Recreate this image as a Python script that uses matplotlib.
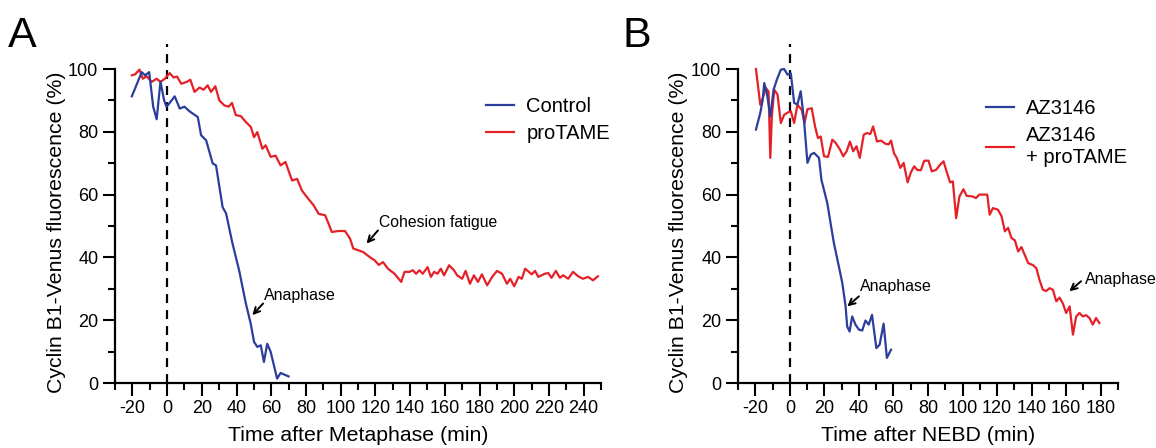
import matplotlib
matplotlib.use("Agg")
import matplotlib.pyplot as plt

plt.rcParams['font.family'] = ['Liberation Sans', 'DejaVu Sans']
plt.rcParams['axes.unicode_minus'] = False

# ---------------- Panel A data ----------------
ctrl_t = [-20.3, -14.6, -12.7, -10.3, -8, -6, -3.8, -1.7, -0.3, 1.2, 4.4, 7.3, 10, 13, 17.7,
          19.6, 22.5, 26.3, 28.2, 32, 34, 37.7, 41.5, 45.4, 48.2, 50.1, 52, 54, 55.8, 57.7,
          59.7, 63.4, 65.4, 70]
ctrl_v = [91.3, 99, 98, 99, 88, 84, 96, 90, 88, 89, 91.3, 87.4, 88, 86.5, 84.7,
          78.9, 77.3, 69.9, 69.3, 56, 54, 44.4, 35.9, 25.3, 18.9, 13.1, 11.5, 12, 6.7, 12.5,
          9.9, 1.4, 3.2, 2.1]

tame_t = [-20.3, -18.4, -15.9, -14, -11.8, -8.9, -6, -3.8, -1.3, 1.5, 3.8, 5.7, 8.2, 11.4,
          13.4, 15.8, 18.7, 21, 23.4, 25.3, 27.8, 30.1, 33, 35.5, 37.4, 39.6, 42.5, 45.4,
          48.2, 50.1, 52, 54.9, 56.8, 59.7, 62.5, 65.4, 68.2, 72, 74.9, 77.7, 80.6, 84.4,
          87.3, 91.1, 93, 94.9, 98.7, 102.5, 105.4, 107.3, 110, 113, 117, 119.7, 122, 124.4,
          127.3, 131, 134.9, 136.8, 139.7, 141.6, 143.5, 145.4, 147.3, 150.1, 152, 153.9,
          155.8, 157.7, 159.6, 162.5, 165.3, 167.1, 170, 172, 174.5, 176.8, 179.1, 181.4,
          184.4, 187.3, 190.1, 193, 195.8, 197.7, 200, 202.5, 204.4, 206.3, 210.1, 212,
          213.9, 217.7, 219.6, 221.5, 224, 226.3, 228.2, 231.1, 233.9, 236.8, 239.6, 242.5,
          245.4, 248.2]
tame_v = [98, 98.3, 99.8, 96.9, 97.7, 95.9, 96.9, 95.9, 96.9, 98.7, 97.3, 97.6, 95.3, 95.9,
          96.6, 92.7, 94.1, 93.4, 94.8, 92.7, 94.5, 90, 88.4, 88, 89.2, 85.3, 85, 83.1,
          81.6, 78.3, 79.9, 74.6, 75.7, 72, 72.4, 69.3, 70.4, 64.5, 65, 61.3, 59.2, 56.6,
          53.9, 53.4, 50.8, 48.1, 48.4, 48.4, 46, 42.8, 42.3, 41.7, 40, 39, 37.6, 38.5,
          36.4, 34.8, 32.2, 35.4, 35.4, 35.9, 34.8, 35.9, 34.8, 36.9, 33.8, 35.4,
          34.8, 36.4, 34.3, 37.5, 35.9, 34.3, 33.2, 35.7, 31.6, 34.3, 32.2, 34.6,
          31.1, 33.8, 35.7, 34.8, 31.6, 33.2, 30.8, 33.8, 33.2, 36.4, 34.6, 35.7,
          33.8, 34.8, 35, 33.5, 35.7, 33.5, 34.3, 33.2, 35.4, 34, 33.2, 33.8,
          32.7, 34]

# ---------------- Panel B data ----------------
az_t = [-19.6, -17.1, -15.7, -14.8, -13.3, -11.3, -9.4, -7.5, -5.2, -3.3, -1.3, 0.6, 2.5, 4.4,
        6.3, 8.2, 10.2, 12.1, 14, 16.9, 18.3, 21.7, 23.6, 25.5, 28.4, 30.4, 32.3, 33.2, 34.6,
        36.1, 38, 40, 41.9, 43.8, 45.7, 47.6, 50.1, 52, 54.3, 56.2, 58.6]
az_v = [80.7, 86, 90.2, 95.5, 92.4, 84.9, 93.4, 96.6, 99.8, 100, 98.2, 98.6, 89.2, 88.7,
        92.9, 83.8, 70.1, 72.7, 73.3, 71.7, 64.7, 57.3, 50.9, 44.6, 37.1, 31.8, 24.4, 18, 16.4,
        21.2, 18.6, 17, 16.7, 19.9, 18.6, 21.7, 11.1, 12.2, 18.9, 8, 10.6]

azt_t = [-19.6, -17.1, -15.7, -13.8, -12.3, -11.3, -10.4, -9, -7.1, -5.2, -3.3, -1, 0.6, 2.5,
         4.4, 6.9, 8.5, 10.2, 12.7, 14.6, 16.3, 17.9, 19.8, 22.1, 24.6, 26.5, 29, 30.9, 32.9,
         34.8, 36.7, 38.6, 40.5, 42.8, 44.7, 46.6, 48.2, 50.5, 52.8, 55.3, 57.2, 58.6, 60.3,
         61.9, 64, 65.9, 68.2, 70.1, 72, 73.9, 75.9, 77.8, 80.3, 82.2, 84.7, 87, 89, 90.9,
         92.8, 94.4, 96.3, 98.2, 100.5, 102.4, 105.9, 107.8, 109.7, 112, 114.3, 115.7, 117.6,
         120.5, 122.6, 124.5, 126.4, 128.3, 130.3, 132.2, 134.1, 136, 138, 140.9, 142.8,
         144.5, 146.5, 148.4, 150.4, 152.3, 154.3, 156.2, 158.1, 160, 162, 163.9, 165.8,
         167.7, 169.6, 171.5, 173.5, 175.4, 177.3, 179.2]
azt_v = [100, 88.6, 90.7, 93.9, 92.8, 71.7, 85, 93.4, 91.8, 82.8, 85.4, 86.2, 86.5, 82.8,
         88.6, 87, 82.8, 87.2, 87.5, 81.7, 78, 78.5, 72.2, 72, 77.5, 76.5, 74.4, 72.2, 73.8,
         76.9, 73.8, 75.4, 71.7, 79.1, 79.6, 79.3, 81.7, 76.9, 77.2, 76.2, 76, 77.2, 73.2,
         71.7, 68.5, 70.1, 63.9, 67.1, 69, 67.8, 67.8, 70.8, 70.8, 67.4, 67.9, 69.5, 70.6, 67.1,
         63.9, 64.2, 52.5, 59.4, 61.7, 59.6, 59.4, 58.9, 60, 60, 60, 53.6, 55.7,
         55.2, 53.1, 48.3, 49.4, 46.2, 45.4, 41.9, 43.3, 40.8, 38.2, 37.5, 36.5,
         32.9, 29.7, 29.3, 30.2, 29.7, 26, 27.2, 25.3, 22.3, 24.4, 15.4, 21.2,
         22.3, 21.2, 21.6, 20.7, 18.6, 20.7, 19.1]

BLUE = '#2b3e9c'
RED = '#e42127'
YLABEL = 'Cyclin B1-Venus fluorescence (%)'
LABEL_FS = 15.3

fig = plt.figure(figsize=(11.56, 4.48), dpi=100)
W, H = 1156, 448


def make_ax(left_px, right_px, xmin, xmax, ylabel_x_px):
    top_val = 108
    bottom_px = 383
    top_px = bottom_px - top_val * 3.14
    hpx = bottom_px - top_px
    wpx = right_px - left_px
    ax = fig.add_axes([left_px / W, 1 - bottom_px / H, wpx / W, hpx / H])
    ax.set_xlim(xmin, xmax)
    ax.set_ylim(0, top_val)
    for s in ['top', 'right']:
        ax.spines[s].set_visible(False)
    for s in ['left', 'bottom']:
        ax.spines[s].set_linewidth(1.6)
    ax.spines['left'].set_bounds(0, 100)
    ax.set_yticks([0, 20, 40, 60, 80, 100])
    ax.set_yticks(range(10, 100, 20), minor=True)
    ax.tick_params(which='major', length=9, width=1.5, labelsize=13, pad=3)
    ax.tick_params(which='minor', length=5, width=1.5)
    ax.axvline(0, color='black', lw=1.6, ls=(0, (4, 3.2)), zorder=1)
    ax.set_ylabel(YLABEL, fontsize=LABEL_FS, va='center')
    ax.yaxis.set_label_coords((ylabel_x_px - left_px) / wpx, (bottom_px - 232) / hpx)
    return ax


arrow = dict(arrowstyle='->', color='black', lw=1.4, shrinkA=0, shrinkB=0,
             mutation_scale=11)
leg_kw = dict(loc='upper left', bbox_transform=fig.transFigure, frameon=False,
              fontsize=14.5, handlelength=1.4, handletextpad=0.6, borderpad=0,
              labelspacing=0.4)

# Panel A
axA = make_ax(115, 601, -30, 250, 57)
axA.set_xticks(range(-20, 241, 20))
axA.set_xticks(range(-30, 251, 10), minor=True)
axA.plot(ctrl_t, ctrl_v, color=BLUE, lw=1.6, label='Control', zorder=3)
axA.plot(tame_t, tame_v, color=RED, lw=1.6, label='proTAME', zorder=2)
axA.set_xlabel('Time after Metaphase (min)', fontsize=LABEL_FS, labelpad=7)
axA.legend(bbox_to_anchor=(476 / W, 1 - 87 / H), **leg_kw)

axA.annotate('', xy=(49.1, 21.6), xytext=(55.3, 25.3), arrowprops=arrow)
axA.text(55.8, 27.9, 'Anaphase', fontsize=11.5, va='center', ha='left')
axA.annotate('', xy=(114.9, 44.4), xytext=(121.5, 48.6), arrowprops=arrow)
axA.text(121.9, 51.0, 'Cohesion fatigue', fontsize=11.3, va='center', ha='left')

# Panel B
axB = make_ax(738, 1118, -30, 190, 679)
axB.set_xticks(range(-20, 181, 20))
axB.set_xticks(range(-30, 191, 10), minor=True)
axB.plot(az_t, az_v, color=BLUE, lw=1.6, label='AZ3146', zorder=3)
axB.plot(azt_t, azt_v, color=RED, lw=1.6, label='AZ3146\n+ proTAME', zorder=2)
axB.set_xlabel('Time after NEBD (min)', fontsize=LABEL_FS, labelpad=7)
axB.legend(bbox_to_anchor=(976 / W, 1 - 89 / H), **leg_kw)
axB.annotate('', xy=(33.3, 24.4), xytext=(40.0, 27.6), arrowprops=arrow)
axB.text(40.9, 30.8, 'Anaphase', fontsize=11.5, va='center', ha='left')
axB.annotate('', xy=(161.8, 29.2), xytext=(168.6, 32.4), arrowprops=arrow)
axB.text(170.6, 32.9, 'Anaphase', fontsize=11.5, va='center', ha='left')

fig.text(8 / W, 1 - 36 / H, 'A', fontsize=31, va='center', ha='left')
fig.text(622 / W, 1 - 36 / H, 'B', fontsize=31, va='center', ha='left')

fig.savefig('out.png', dpi=100)
